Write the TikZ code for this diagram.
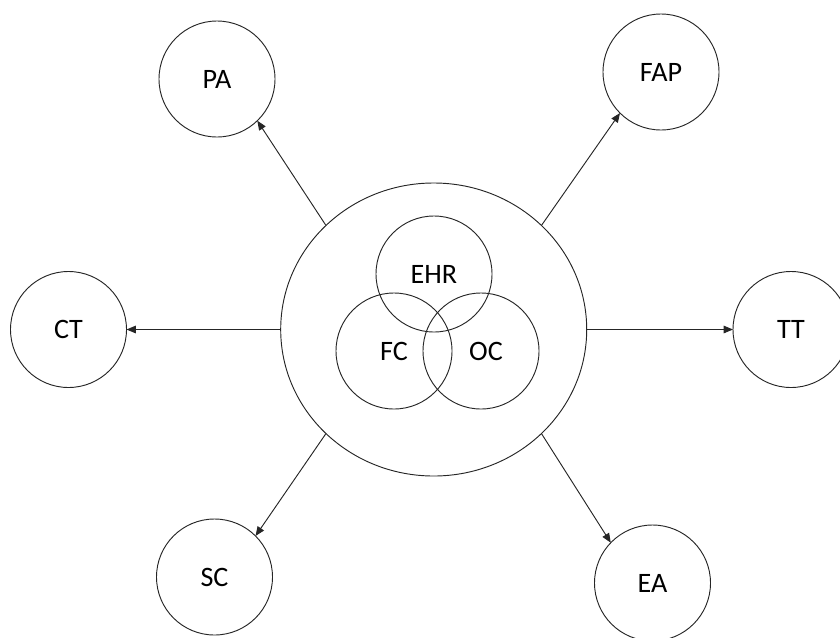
\documentclass[tikz,border=0pt]{standalone}
\usepackage{fontspec}
\setmainfont{Carlito}
\usetikzlibrary{shapes.geometric,arrows.meta}
\begin{document}
\begin{tikzpicture}[x=0.03cm,y=-0.03cm,
  every node/.style={font=\fontsize{24}{28}\selectfont, text=black},
  ball/.style={circle, draw=black!85, line width=0.8pt, minimum size=3.48cm, inner sep=0pt, outer sep=0pt},
  venn/.style={circle, draw=black!85, line width=0.8pt, minimum size=3.48cm, inner sep=0pt, outer sep=0pt},
  hub/.style={ellipse, draw=black!85, line width=0.8pt, minimum width=9.18cm, minimum height=8.79cm, inner sep=0pt, outer sep=0pt},
  link/.style={draw=black!85, line width=0.8pt, -{Triangle[length=8pt,width=6.5pt]}}]
\useasboundingbox (0,0) rectangle (840,637);
\node[hub] (big) at (433.7,329.5) {};
\node[venn] (ehr) at (434,274) {};
\node[venn] (fc) at (394,351) {};
\node[venn] (oc) at (481,351) {};
\node at (ehr.center) {EHR};
\node at (fc.center) {FC};
\node at (oc.center) [xshift=0.15cm] {OC};
\node[ball] (pa) at (217,79) {PA};
\node[ball] (fap) at (661,72) {FAP};
\node[ball] (ct) at (68.5,329.5) {CT};
\node[ball] (tt) at (791,329.5) {TT};
\node[ball] (sc) at (214.5,577) {SC};
\node[ball] (ea) at (652.5,583) {EA};
\draw[link] (big.136) -- (pa.314);
\draw[link] (big.44.8) -- (fap.225);
\draw[link] (big.west) -- (ct.east);
\draw[link] (big.east) -- (tt.west);
\draw[link] (big.224) -- (sc.45);
\draw[link] (big.-44.6) -- (ea.136);
\end{tikzpicture}
\end{document}
